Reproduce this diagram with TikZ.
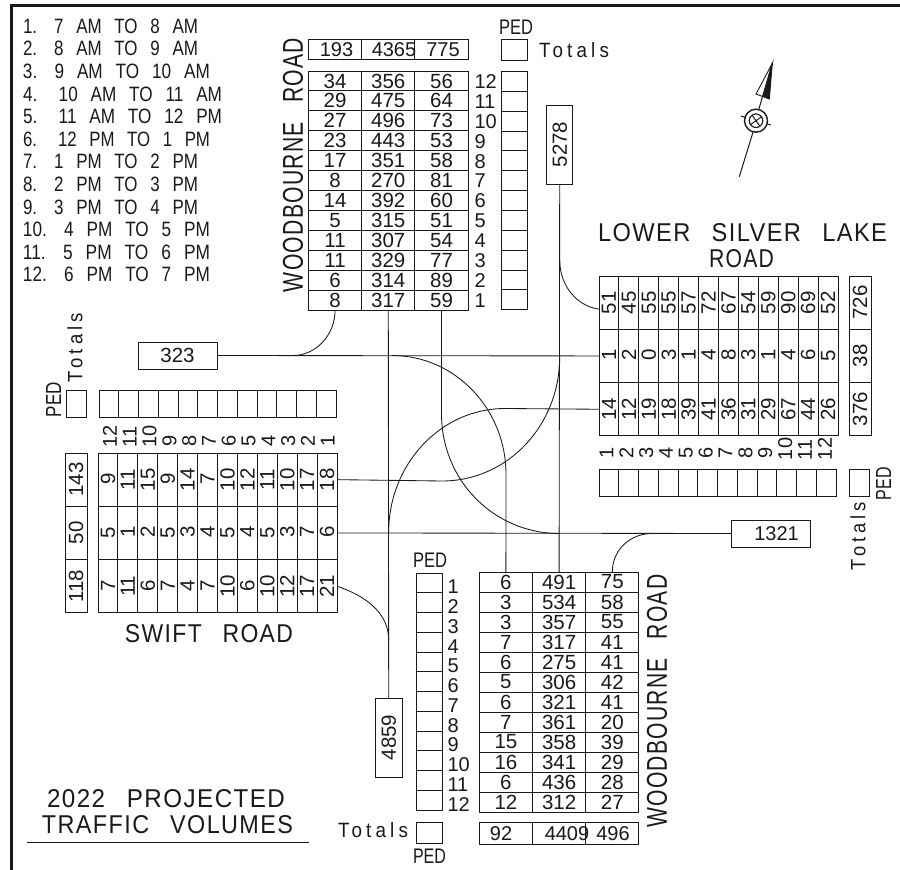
\documentclass[tikz,border=0pt]{standalone}
\usepackage{fontspec}
\usepackage{graphicx}
\setmainfont{Liberation Sans}
\newfontfamily\lblfont[LetterSpace=6]{Liberation Sans}
\newfontfamily\widefont[LetterSpace=22]{Liberation Sans}
\newcommand\rt[1]{\rotatebox[origin=c]{90}{#1}}
\newcommand\fitt[3]{\resizebox{#1pt}{#2pt}{\lblfont\fontsize{20}{22}\selectfont\spaceskip=0.9em\relax #3}}
\newcommand\rfit[3]{\rotatebox[origin=c]{90}{\fitt{#1}{#2}{#3}}}
\newcommand\legfit[3]{\resizebox{#1pt}{#2pt}{\normalfont\fontsize{20}{22}\selectfont\spaceskip=0.75em\relax #3}}
\newcommand\pedfit[3]{\resizebox{#1pt}{#2pt}{\normalfont\fontsize{20}{22}\selectfont #3}}
\newcommand\rpedfit[3]{\rotatebox[origin=c]{90}{\pedfit{#1}{#2}{#3}}}
\newcommand\totfit[3]{\resizebox{#1pt}{#2pt}{\widefont\fontsize{20}{22}\selectfont #3}}
\newcommand\rtotfit[3]{\rotatebox[origin=c]{90}{\totfit{#1}{#2}{#3}}}
\definecolor{ink}{HTML}{1A1A1A}
\tikzset{
  base/.style={draw=ink,line width=0.9pt,inner sep=0pt,outer sep=0pt,rectangle,text=ink,font=\fontsize{20.5}{22}\selectfont},
  rowcell/.style={base,minimum width=53.2pt,minimum height=19.92pt},
  colcell/.style={base,minimum width=19.92pt,minimum height=53.1pt},
  totside/.style={base,minimum width=22pt,minimum height=53.1pt},
  pedv/.style={base,minimum width=26pt,minimum height=19.85pt},
  pedh/.style={base,minimum width=19.8pt,minimum height=27pt},
  pedtop/.style={base,minimum width=26pt,minimum height=21pt},
  pedside/.style={base,minimum width=20pt,minimum height=27pt},
  valbox/.style={base},
  numlab/.style={inner sep=0pt,outer sep=0pt,text=ink,font=\fontsize{20}{22}\selectfont},
  lbl/.style={inner sep=0pt,outer sep=0pt,text=ink},
  conn/.style={draw=ink,line width=0.85pt},
  framel/.style={draw=ink,line width=2.6pt}
}
\begin{document}
\begin{tikzpicture}[x=1pt,y=-1pt]
\useasboundingbox[fill=white] (0,0) rectangle (900,870);
\draw[framel] (11.5,870) -- (11.5,5.5) -- (900,5.5);

% legend
\foreach \n/\w/\t in {
 1/175/{1.\hspace{1em}7 AM TO 8 AM},
 2/175/{2.\hspace{1em}8 AM TO 9 AM},
 3/187/{3.\hspace{1em}9 AM TO 10 AM},
 4/199/{4.\hspace{1.25em}10 AM TO 11 AM},
 5/199/{5.\hspace{1.25em}11 AM TO 12 PM},
 6/187/{6.\hspace{1.25em}12 PM TO 1 PM},
 7/175/{7.\hspace{1em}1 PM TO 2 PM},
 8/175/{8.\hspace{1em}2 PM TO 3 PM},
 9/175/{9.\hspace{1em}3 PM TO 4 PM},
 10/187/{10.\hspace{1em}4 PM TO 5 PM},
 11/187/{11.\hspace{1em}5 PM TO 6 PM},
 12/187/{12.\hspace{1em}6 PM TO 7 PM}}{
  \node[lbl,anchor=west] (leg\n) at (23,{26+22.62*(\n-1)}) {\legfit{\w}{14.5}{\t}};
}

% north table
\node[lbl] (roadN) at (293,165) {\rfit{254}{20}{WOODBOURNE ROAD}};
\node[rowcell] (Nt1) at (335.1,49.2) {};
\node[rowcell] (Nt2) at (388.3,49.2) {};
\node[rowcell] (Nt3) at (441.5,49.2) {};
\node[numlab] (Ntv1) at (336.5,49.5) {193};
\node[numlab] (Ntv2) at (394,49.5) {4365};
\node[numlab] (Ntv3) at (443,49.5) {775};
\foreach \hr/\vals [count=\n] in {
 12/{34,356,56},11/{29,475,64},10/{27,496,73},9/{23,443,53},8/{17,351,58},7/{8,270,81},
 6/{14,392,60},5/{5,315,51},4/{11,307,54},3/{11,329,77},2/{6,314,89},1/{8,317,59}}{
  \foreach \v [count=\c] in \vals {
    \node[rowcell] (N\hr-\c) at ({308.5+53.2*(\c-0.5)},{71+19.92*(\n-0.5)}) {\v};
  }
  \node[numlab,anchor=west] (Nl\hr) at (474.5,{71.5+19.92*(\n-0.5)}) {\hr};
  \node[pedv] (Np\hr) at (514,{71.5+19.85*(\n-0.5)}) {};
}
\node[pedtop] (Npt) at (514,49.5) {};
\node[lbl] (NpedT) at (516,27) {\pedfit{34}{14.5}{PED}};
\node[lbl] (NtotT) at (574,50.5) {\totfit{70}{15}{Totals}};
\node[valbox,minimum width=26pt,minimum height=79pt] (box5278) at (559.7,144.5) {\rt{5278}};

% east table
\node[lbl] (roadE1) at (742.5,233) {\fitt{289}{18}{LOWER SILVER LAKE}};
\node[lbl] (roadE2) at (741.5,259) {\fitt{65}{18}{ROAD}};
\foreach \r/\vals in {
 1/{51,45,55,55,57,72,67,54,59,90,69,52},
 2/{1,2,0,3,1,4,8,3,1,4,6,5},
 3/{14,12,19,18,39,41,36,31,29,67,44,26}}{
  \foreach \v [count=\c] in \vals {
    \node[colcell] (E\r-\c) at ({599+19.92*(\c-0.5)},{276+53.3*(\r-0.5)}) {\rt{\v}};
  }
}
\foreach \r/\v in {1/726,2/38,3/376}{
  \node[totside] (Et\r) at (860,{276+53.3*(\r-0.5)}) {\rt{\v}};
}
\foreach \c in {1,...,12}{
  \node[numlab,anchor=south] (El\c) at ({606.5+19.85*(\c-1)},460) {\rt{\c}};
  \node[pedh] (Ep\c) at ({599+19.75*(\c-0.5)},482.5) {};
}
\node[pedside] (Ept) at (859,482.5) {};
\node[lbl] (EpedT) at (883.5,483.5) {\rpedfit{33}{15}{PED}};
\node[lbl] (EtotT) at (858,536) {\rtotfit{68}{15}{Totals}};
\node[valbox,minimum width=79pt,minimum height=27pt] (box1321) at (770.5,533.5) {};
\node[numlab] (v1321) at (776.5,533.5) {1321};

% west table
\node[lbl] (roadW) at (209,634) {\fitt{168}{18}{SWIFT ROAD}};
\foreach \r/\vals in {
 1/{9,11,15,9,14,7,10,12,11,10,17,18},
 2/{5,1,2,5,3,4,5,4,5,3,7,6},
 3/{7,11,6,7,4,7,10,6,10,12,17,21}}{
  \foreach \v [count=\c] in \vals {
    \node[colcell] (W\r-\c) at ({98+19.92*(\c-0.5)},{453+53.3*(\r-0.5)}) {\rt{\v}};
  }
}
\foreach \r/\v in {1/143,2/50,3/118}{
  \node[totside] (Wt\r) at (76,{453+53.3*(\r-0.5)}) {\rt{\v}};
}
\foreach \c [evaluate=\c as \lv using int(13-\c)] in {1,...,12}{
  \node[numlab,anchor=south] (Wl\c) at ({110+19.8*(\c-1)},447.5) {\rt{\lv}};
  \node[pedh] (Wp\c) at ({99+19.75*(\c-0.5)},403.5) {};
}
\node[pedside] (Wpt) at (76,403.5) {};
\node[lbl] (WpedT) at (53.5,399.5) {\rpedfit{35}{15}{PED}};
\node[lbl] (WtotT) at (75,347.5) {\rtotfit{69}{15}{Totals}};
\node[valbox,minimum width=79pt,minimum height=27pt] (box323) at (177.5,355.5) {323};

% south table
\node[lbl] (roadS) at (657,701) {\rfit{253}{20}{WOODBOURNE ROAD}};
\foreach \hr/\vals [count=\n] in {
 1/{6,491,75},2/{3,534,58},3/{3,357,55},4/{7,317,41},5/{6,275,41},6/{5,306,42},
 7/{6,321,41},8/{7,361,20},9/{15,358,39},10/{16,341,29},11/{6,436,28},12/{12,312,27}}{
  \foreach \v [count=\c] in \vals {
    \node[rowcell] (S\hr-\c) at ({479.3+53.2*(\c-0.5)},{572+20*(\n-0.5)}) {\v};
  }
  \node[numlab,anchor=west] (Sl\hr) at (447.5,{587+19.75*(\n-1)}) {\hr};
  \node[pedv] (Sp\hr) at (429,{573+19.75*(\n-0.5)}) {};
}
\node[rowcell,minimum height=22pt] (St1) at (505.9,833) {};
\node[rowcell,minimum height=22pt] (St2) at (559.1,833) {};
\node[rowcell,minimum height=22pt] (St3) at (612.3,833) {};
\node[numlab] (Stv1) at (501,833.5) {92};
\node[numlab] (Stv2) at (567,833.5) {4409};
\node[numlab] (Stv3) at (613,833.5) {496};
\node[pedtop] (Spt) at (429,833) {};
\node[lbl] (SpedT) at (430,560) {\pedfit{34}{14.5}{PED}};
\node[lbl] (SpedB) at (429.5,856) {\pedfit{33}{14.5}{PED}};
\node[lbl] (StotT) at (373,830.5) {\totfit{70}{15}{Totals}};
\node[valbox,minimum width=27pt,minimum height=79pt] (box4859) at (388.7,737.5) {\rt{4859}};

% title
\node[lbl] (title1) at (166,799) {\fitt{238}{18}{2022 PROJECTED}};
\node[lbl] (title2) at (167.5,825) {\fitt{251}{18}{TRAFFIC VOLUMES}};
\coordinate (ulA) at (27,842.5);
\coordinate (ulB) at (308.5,842.5);
\draw[draw=ink,line width=1.5pt] (ulA) -- (ulB);

% connectors
\coordinate (jn1) at (293,355.5);
\coordinate (jn2) at (392,355.5);
\coordinate (jn3) at (506,474);
\coordinate (jn4) at (441.5,414);
\coordinate (jn5) at (559.5,533.5);
\coordinate (jn6) at (559.7,260);
\coordinate (jn7) at (505,408.5);
\coordinate (jn8) at (388.7,532);
\coordinate (jn9) at (442,481);
\coordinate (jn10) at (559.7,357);
\coordinate (jn11) at (388.7,640);
\coordinate (jn12) at (652,533.5);

\draw[conn] (box323.east) -- (E2-1.west);
\draw[conn] (N1-1.south) .. controls +(0,25) and +(23,0) .. (jn1);
\draw[conn] (N1-2.south) -- (box4859.north);
\draw[conn] (N1-3.south) -- (jn4) .. controls +(0,66) and +(-66,0) .. (jn5);
\draw[conn] (box5278.south) -- (S1-2.north);
\draw[conn] (jn6) .. controls +(0,26) and +(-22,-3) .. ([yshift=-6.5pt]E1-1.west);
\draw[conn] (jn2) .. controls +(64,0) and +(0,-64) .. (jn3) -- (S1-1.north);
\draw[conn] (E3-1.west) -- (jn7) .. controls +(-65,0) and +(0,-67) .. (jn8);
\draw[conn] (W1-12.east) -- (jn9) .. controls +(66,0) and +(0,68) .. (jn10);
\draw[conn] (W2-12.east) -- (box1321.west);
\draw[conn] (W3-12.east) .. controls +(27,9) and +(0,-28) .. (jn11);
\draw[conn] (S1-3.north) .. controls +(0,-22) and +(-22,0) .. (jn12);

% north arrow
\draw[draw=ink,line width=1pt] (772.3,63.3) -- (758.6,110);
\draw[draw=ink,line width=1pt] (753.2,131.5) -- (739.3,176.7);
\fill[white,draw=ink,line width=0.9pt,line join=miter] (772.3,63.3) -- (756,94) -- (762.7,96.5) -- cycle;
\fill[ink,draw=ink,line width=0.9pt,line join=miter] (772.3,63.3) -- (769.3,99) -- (762.7,96.5) -- cycle;
\draw[draw=ink,line width=1.4pt] (756,120.7) circle (11.5);
\draw[draw=ink,line width=1.1pt] (756,120.7) circle (6.8);
\draw[draw=ink,line width=1pt] (752,115) -- (760,126.4) (750.3,124.7) -- (761.7,116.7);
\draw[draw=ink,line width=1pt] (740.7,116) -- (745,117.3) (766.7,123.7) -- (770.7,125);
\end{tikzpicture}
\end{document}
